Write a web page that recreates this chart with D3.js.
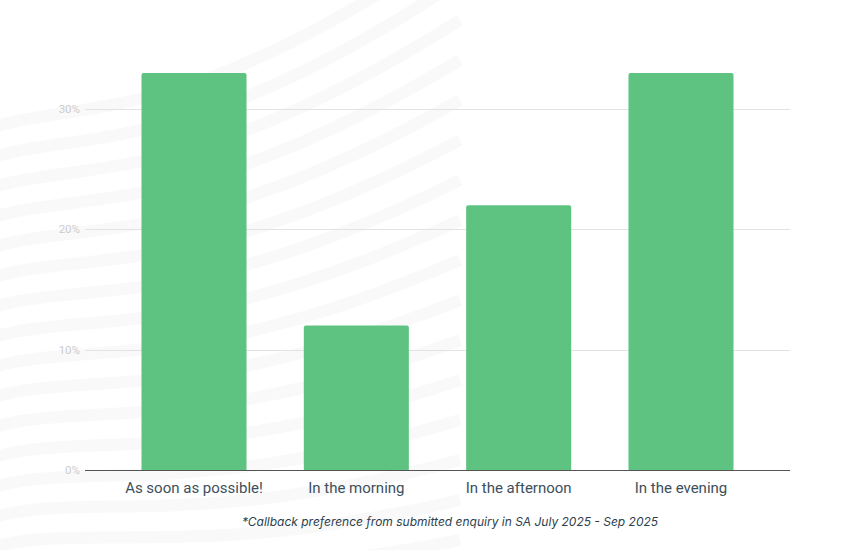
<!DOCTYPE html>
<html><head><meta charset="utf-8">
<script src="https://cdn.jsdelivr.net/npm/d3@7"></script>
<style>html,body{margin:0;padding:0;background:#fff;}svg{display:block;}</style>
</head><body>
<svg id="c" width="846" height="550"></svg>
<script>
const categories = ["As soon as possible!", "In the morning", "In the afternoon", "In the evening"];
const values = [33, 12, 22, 33];
const yTicks = [0, 10, 20, 30];
const footnote = "*Callback preference from submitted enquiry in SA July 2025 - Sep 2025";

const svg = d3.select("#c");
const W = 846, H = 550;
const m = {left: 85, right: 56, top: 40, bottom: 80};

// very faint background waves
const bg = svg.append("g").attr("opacity", 0.45);
for (let i = 0; i < 16; i++) {
  bg.append("path")
    .attr("d", `M-40 ${140 + i*30} C 60 ${90 + i*30}, 160 ${150 + i*30}, 460 ${-60 + i*40}`)
    .attr("fill", "none").attr("stroke", "#f3f3f3").attr("stroke-width", 12);
}

const x = d3.scaleBand().domain(categories).range([m.left, W - m.right]).paddingInner(0.353).paddingOuter(0.348);
const y = d3.scaleLinear().domain([0, 30]).range([470, 109]);

// gridlines
svg.append("g").selectAll("line").data(yTicks.filter(d => d > 0)).join("line")
  .attr("x1", m.left).attr("x2", W - m.right)
  .attr("y1", d => Math.round(y(d)) + 0.5).attr("y2", d => Math.round(y(d)) + 0.5)
  .attr("stroke", "#e3e3e3").attr("stroke-width", 1);

// y labels
svg.append("g").selectAll("text").data(yTicks).join("text")
  .attr("x", 80).attr("y", d => y(d) + 4)
  .attr("text-anchor", "end")
  .attr("font-family", "Roboto, sans-serif").attr("font-size", 11.5)
  .attr("fill", "#cccccc")
  .text(d => d + "%");

// bars
svg.append("g").selectAll("path").data(values).join("path")
  .attr("fill", "#5ec381")
  .attr("d", (d, i) => {
    const x0 = x(categories[i]), w = x.bandwidth(), y0 = y(d), y1 = y(0), r = 2;
    return `M${x0} ${y1} V${y0 + r} Q${x0} ${y0} ${x0 + r} ${y0} H${x0 + w - r} Q${x0 + w} ${y0} ${x0 + w} ${y0 + r} V${y1} Z`;
  });

// baseline
svg.append("line").attr("x1", m.left).attr("x2", W - m.right)
  .attr("y1", 470.5).attr("y2", 470.5).attr("stroke", "#555").attr("stroke-width", 1);

// x labels
svg.append("g").selectAll("text").data(categories).join("text")
  .attr("x", d => x(d) + x.bandwidth() / 2).attr("y", 493)
  .attr("text-anchor", "middle")
  .attr("font-family", "Roboto, sans-serif").attr("font-size", 15)
  .attr("fill", "#3d4f5a")
  .text(d => d);

// footnote
svg.append("text").attr("x", 450).attr("y", 526)
  .attr("text-anchor", "middle")
  .attr("font-family", "Inter, sans-serif").attr("font-style", "italic").attr("font-size", 12)
  .attr("fill", "#2d3f4e")
  .text(footnote);
</script>
</body></html>
